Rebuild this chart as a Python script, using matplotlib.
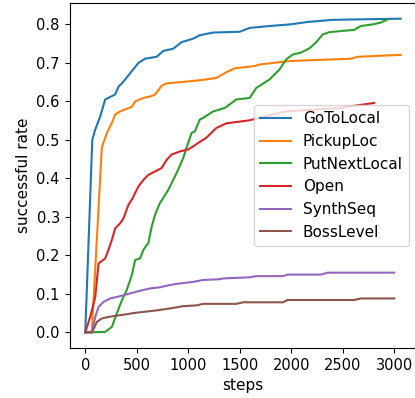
import matplotlib
matplotlib.use('Agg')
import matplotlib.pyplot as plt

# GoToLocal
goto_x = [0, 68, 97, 145, 193, 290, 322, 355, 387, 450, 516, 580, 693, 757, 854, 935, 1047, 1112, 1241,
          1499, 1596, 1789, 1983, 2176, 2273, 2398, 3063]
goto_y = [0, 0.500, 0.527, 0.561, 0.605, 0.618, 0.638, 0.647, 0.657, 0.678, 0.700, 0.711, 0.716, 0.731, 0.737,
          0.754, 0.763, 0.772, 0.779, 0.781, 0.791, 0.796, 0.800, 0.807, 0.809, 0.812, 0.815]

# PickupLoc
pick_x = [0, 63, 161, 210, 258, 290, 338, 403, 452, 484, 564, 645, 677, 742, 790, 919, 1112, 1273, 1370,
          1451, 1644, 1692, 1854, 1983, 2176, 2579, 2644, 3063]
pick_y = [0, 0, 0.481, 0.518, 0.544, 0.566, 0.574, 0.581, 0.586, 0.600, 0.609, 0.614, 0.618, 0.641, 0.647,
          0.650, 0.655, 0.661, 0.676, 0.686, 0.692, 0.696, 0.701, 0.705, 0.707, 0.711, 0.716, 0.721]

# PutNextLocal
put_x = [0, 193, 258, 306, 355, 403, 452, 484, 532, 564, 596, 612, 645, 677, 725, 806, 887, 951, 999, 1032,
         1064, 1112, 1144, 1241, 1354, 1467, 1596, 1660, 1789, 1886, 1950, 2015, 2096, 2176, 2240, 2305, 2369,
         2611, 2676, 2788, 2869, 2934]
put_y = [0, 0.001, 0.014, 0.049, 0.083, 0.110, 0.149, 0.188, 0.192, 0.214, 0.227, 0.231, 0.275, 0.305, 0.336,
         0.370, 0.414, 0.453, 0.492, 0.518, 0.522, 0.553, 0.557, 0.574, 0.583, 0.605, 0.609, 0.635, 0.657, 0.683,
         0.709, 0.722, 0.727, 0.738, 0.753, 0.774, 0.780, 0.786, 0.796, 0.800, 0.805, 0.813]

# Open
open_x = [0, 48, 97, 129, 193, 225, 258, 290, 338, 370, 419, 452, 516, 564, 612, 677, 742, 790, 838, 919,
          999, 1047, 1096, 1177, 1273, 1370, 1596, 1800, 1950, 2466, 2804]
open_y = [0, 0.040, 0.092, 0.179, 0.192, 0.214, 0.240, 0.270, 0.283, 0.296, 0.331, 0.345, 0.379, 0.396, 0.409,
          0.418, 0.427, 0.448, 0.462, 0.470, 0.475, 0.483, 0.492, 0.506, 0.531, 0.543, 0.551, 0.565, 0.574,
          0.583, 0.596]

# SynthSeq
synth_x = [0, 65, 97, 129, 177, 242, 338, 435, 532, 629, 725, 822, 919, 1047, 1144, 1306, 1338, 1596, 1660,
           1918, 1966, 2289, 2353, 3000]
synth_y = [0, 0, 0.040, 0.066, 0.079, 0.088, 0.094, 0.101, 0.108, 0.114, 0.117, 0.123, 0.127, 0.131, 0.136,
           0.138, 0.140, 0.143, 0.146, 0.146, 0.150, 0.150, 0.155, 0.155]

# BossLevel
boss_x = [0, 65, 113, 161, 225, 322, 403, 467, 564, 693, 822, 951, 1080, 1144, 1467, 1531, 1918, 1966, 2611,
          2676, 3000]
boss_y = [0, 0, 0.027, 0.036, 0.040, 0.044, 0.047, 0.050, 0.053, 0.057, 0.062, 0.068, 0.070, 0.074, 0.074,
          0.078, 0.078, 0.084, 0.084, 0.088, 0.088]

fig = plt.figure(figsize=(4.15, 3.98), dpi=100)
ax = fig.add_axes([69.5 / 415, 50 / 398, 347 / 415, 345 / 398])

ax.plot(goto_x, goto_y, label='GoToLocal')
ax.plot(pick_x, pick_y, label='PickupLoc')
ax.plot(put_x, put_y, label='PutNextLocal')
ax.plot(open_x, open_y, label='Open')
ax.plot(synth_x, synth_y, label='SynthSeq')
ax.plot(boss_x, boss_y, label='BossLevel')

ax.set_xticks([0, 500, 1000, 1500, 2000, 2500, 3000])
ax.tick_params(labelsize=10.5)
ax.set_xlabel('steps', fontsize=11)
ax.set_ylabel('successful rate', fontsize=11)
ax.legend(loc='center right', fontsize=11)

fig.savefig('out.png', dpi=100)
